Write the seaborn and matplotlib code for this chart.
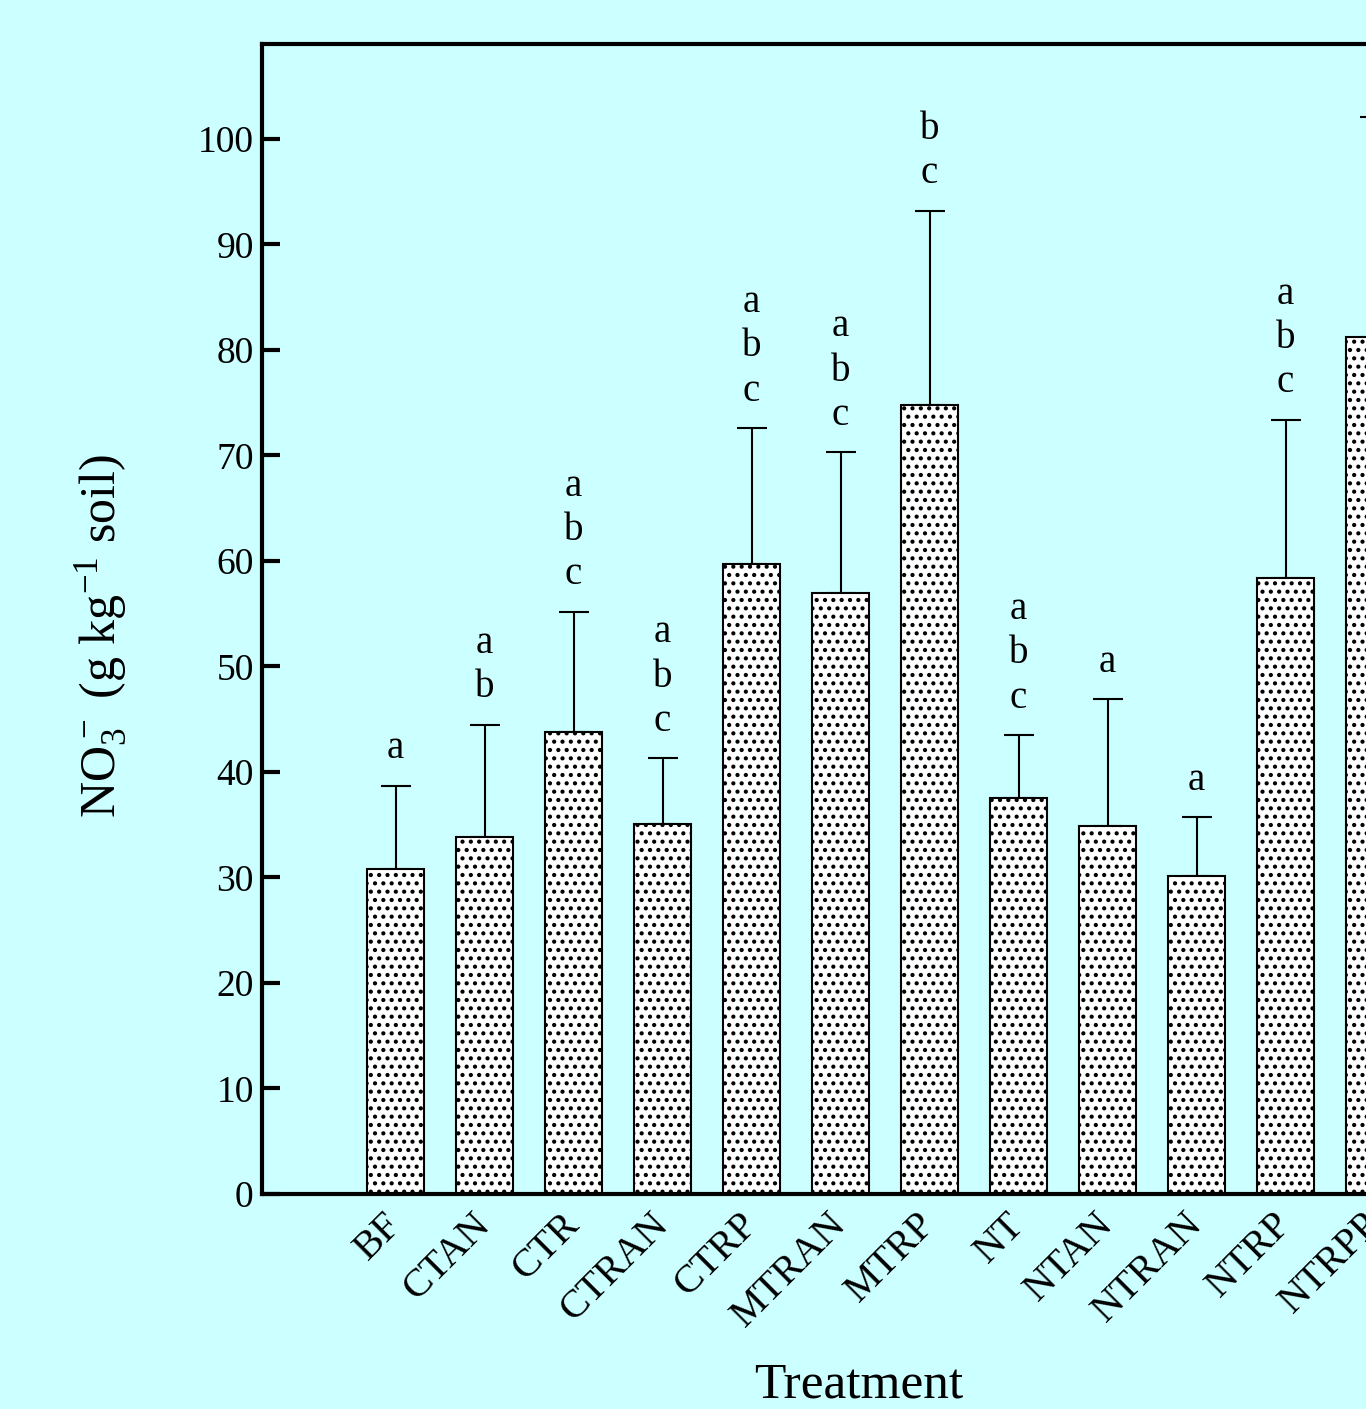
import numpy as np
import pandas as pd
import matplotlib
matplotlib.use("Agg")
import matplotlib.pyplot as plt
import seaborn as sns

categories = ["BF", "CTAN", "CTR", "CTRAN", "CTRP", "MTRAN", "MTRP",
              "NT", "NTAN", "NTRAN", "NTRP", "NTRPP"]
means = [30.8, 33.8, 43.8, 35.1, 59.7, 57.0, 74.8, 37.5, 34.9, 30.1, 58.4, 81.2]
err_top = [38.7, 44.5, 55.2, 41.3, 72.6, 70.3, 93.2, 43.5, 46.9, 35.7, 73.4, 102.1]
letters = ["a", "ab", "abc", "abc", "abc", "abc", "bc", "abc", "a", "a", "abc", ""]
yticks = [0, 10, 20, 30, 40, 50, 60, 70, 80, 90, 100]

plt.rcParams["font.family"] = ["Liberation Serif", "DejaVu Serif"]
plt.rcParams["hatch.linewidth"] = 1.8
plt.rcParams["hatch.color"] = "black"

bg = "#CCFFFF"
fig = plt.figure(figsize=(13.66, 14.09), dpi=100, facecolor=bg)
ax = fig.add_axes([262 / 1366, 215 / 1409, 1246 / 1366, 1150 / 1409])
ax.set_facecolor(bg)

df = pd.DataFrame({"Treatment": categories, "NO3": means})
sns.barplot(data=df, x="Treatment", y="NO3", order=categories, color="white",
            saturation=1, edgecolor="black", linewidth=1.5, width=0.65,
            hatch="..", errorbar=None, ax=ax, zorder=2)

pos = np.arange(len(categories))
m = np.array(means)
up = np.array(err_top) - m
ax.errorbar(pos, m, yerr=[np.zeros_like(up), up], fmt="none", ecolor="black",
            elinewidth=1.5, capsize=11, capthick=1.5, zorder=1)

for x, top, lab in zip(pos, err_top, letters):
    n = len(lab)
    for i, ch in enumerate(lab):
        y = top + 3.5 + 4.2 * (n - 1 - i)
        ax.text(x, y, ch, ha="center", va="center", fontsize=28, clip_on=False)

ax.set_xlim(-1.5, 12.5)
ax.set_ylim(0, 109)
ax.set_yticks(yticks)
ax.set_yticklabels([str(t) for t in yticks], fontsize=27)
ax.tick_params(axis="y", direction="in", length=13, width=3, pad=6)
ax.tick_params(axis="x", length=0, pad=18)
for lab in ax.get_xticklabels():
    lab.set_rotation(45)
    lab.set_ha("right")
    lab.set_va("center")
    lab.set_rotation_mode("anchor")
    lab.set_fontsize(29)

for s in ["left", "bottom", "top", "right"]:
    ax.spines[s].set_linewidth(3)

ax.set_xlabel("Treatment", fontsize=37)
ax.xaxis.set_label_coords(0.479, -0.146)
ax.set_ylabel(r"NO$\mathregular{_3^-}$ (g kg$\mathregular{^{-1}}$ soil)", fontsize=36)
ax.yaxis.set_label_coords(-0.107, 0.485)

fig.savefig("out.png", dpi=100, facecolor=bg)
